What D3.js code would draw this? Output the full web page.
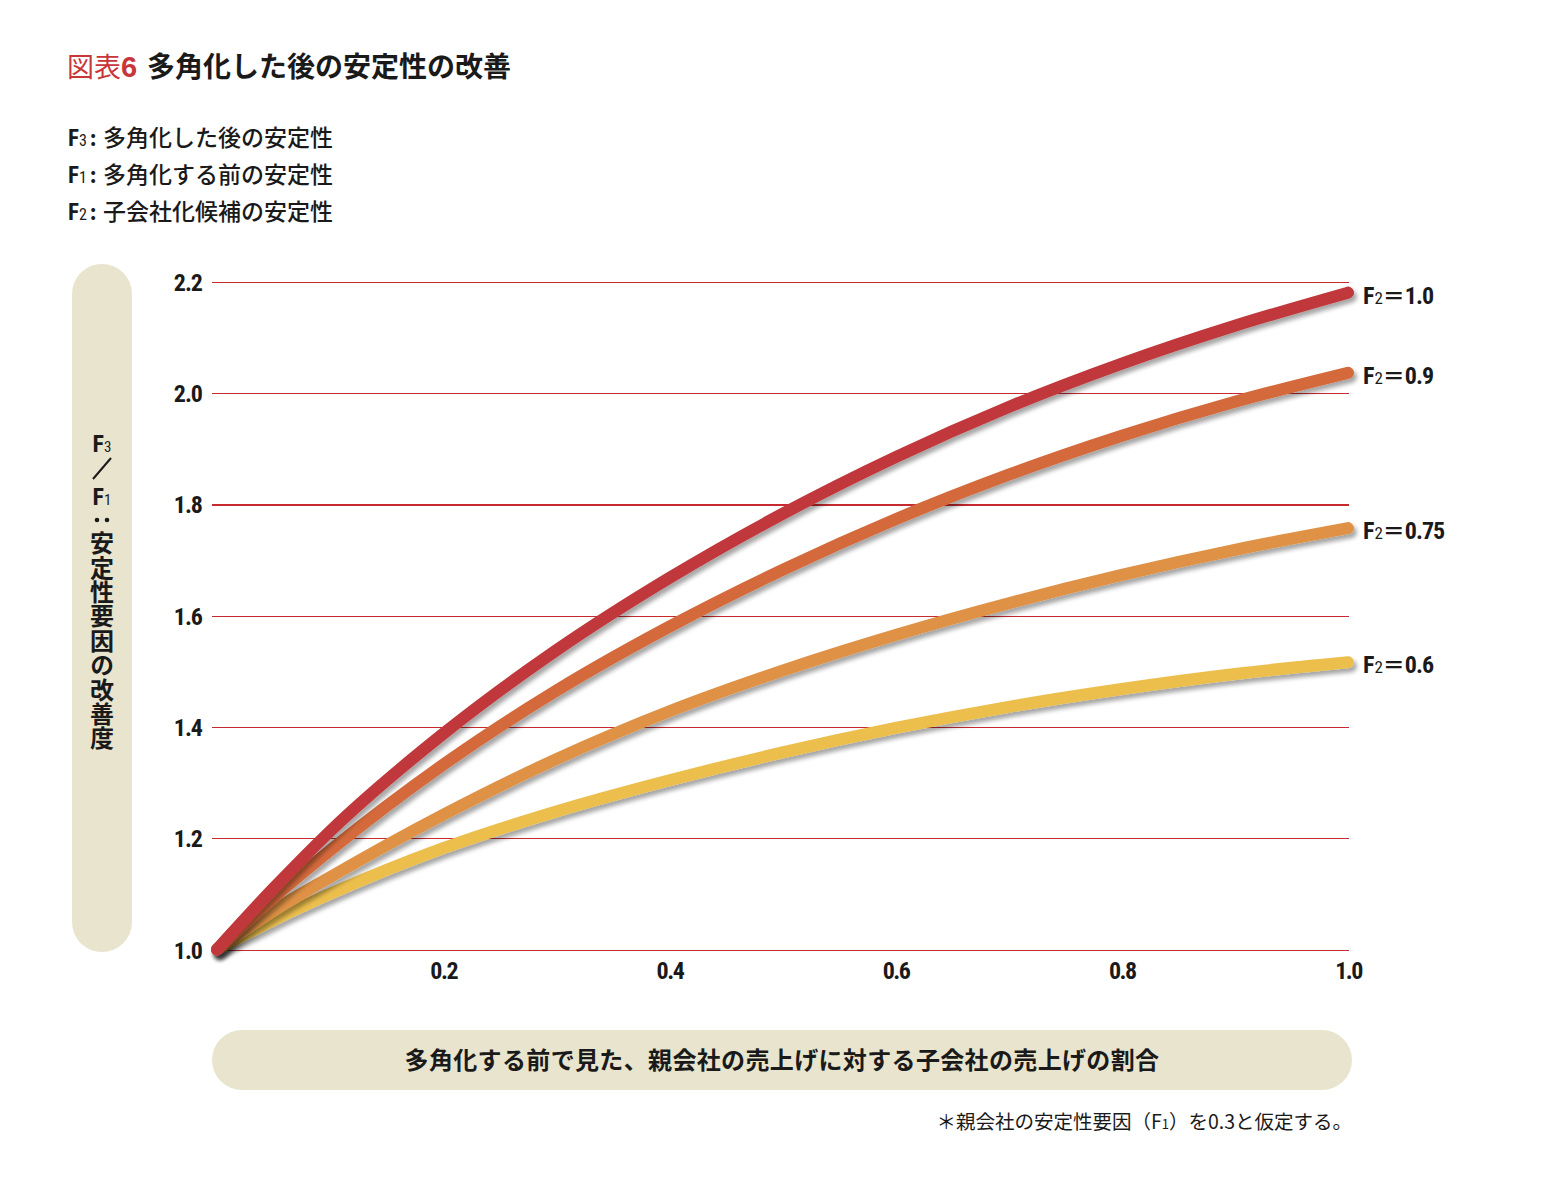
<!DOCTYPE html>
<html>
<head>
<meta charset="utf-8">
<script src="https://cdn.jsdelivr.net/npm/d3@7"></script>
<style>
  html, body { margin: 0; padding: 0; background: #ffffff; }
  svg { display: block; }
</style>
</head>
<body>
<svg id="chart" width="1552" height="1186"></svg>
<script>
// ---------------- DATA ----------------
const xValues = [0, 0.05, 0.1, 0.2, 0.3, 0.4, 0.5, 0.6, 0.7, 0.8, 0.9, 1.0];
const seriesNames = ["1.0", "0.9", "0.75", "0.6"];
const valuesF2_10  = [1.0, 1.11, 1.2125, 1.3875, 1.5375, 1.6675, 1.7825, 1.8845, 1.9745, 2.0525, 2.1205, 2.18];
const valuesF2_09  = [1.0, 1.093, 1.178, 1.332, 1.465, 1.58, 1.682, 1.773, 1.853, 1.923, 1.984, 2.036];
const valuesF2_075 = [1.0, 1.07, 1.13, 1.242, 1.342, 1.428, 1.501, 1.565, 1.622, 1.673, 1.718, 1.757];
const valuesF2_06  = [1.0, 1.053, 1.10, 1.182, 1.248, 1.304, 1.354, 1.398, 1.436, 1.468, 1.495, 1.516];
const yTickValues = [1.0, 1.2, 1.4, 1.6, 1.8, 2.0, 2.2];
const xTickValues = [0.2, 0.4, 0.6, 0.8, 1.0];

const titlePrefix = "図表";
const titleNumber = "6";
const titleText = "多角化した後の安定性の改善";
const legendSubs = ["3", "1", "2"];
const legendTexts = ["多角化した後の安定性", "多角化する前の安定性", "子会社化候補の安定性"];
const yTitleText = "安定性要因の改善度";
const xTitle = "多角化する前で見た、親会社の売上げに対する子会社の売上げの割合";
const footnote = ["＊親会社の安定性要因（F", "1", "）を0.3と仮定する。"];

// ---------------- STYLE ----------------
const seriesColors = ["#C0373A", "#D4693B", "#DF9145", "#ECBF4E"];
const gridColor = "#C62A2E";
const panelColor = "#E8E4CD";
const jp = "'Noto Sans CJK JP', 'Noto Sans', sans-serif";
const narrow = "'Liberation Sans Narrow', 'Arial Narrow', 'Roboto Condensed', 'Liberation Sans', Arial, sans-serif";

const svg = d3.select("#chart");

const x = d3.scaleLinear().domain([0, 1]).range([217, 1348]);
const y = d3.scaleLinear().domain([1.0, 2.2]).range([949.5, 281.5]);
const gridLeft = 212, gridRight = 1349;

// shadow filter
const defs = svg.append("defs");
const f = defs.append("filter").attr("id", "shadow")
  .attr("x", "-5%").attr("y", "-5%").attr("width", "115%").attr("height", "120%");
f.append("feDropShadow").attr("dx", 3).attr("dy", 4).attr("stdDeviation", 2)
  .attr("flood-color", "#000").attr("flood-opacity", 0.35);

// ---------------- TITLE ----------------
const title = svg.append("text").attr("x", 67).attr("y", 77)
  .attr("font-family", jp).attr("font-size", 27);
title.append("tspan").attr("fill", "#C8363A").attr("font-weight", 400).text(titlePrefix);
title.append("tspan").attr("fill", "#C8363A").attr("font-weight", 700)
  .attr("font-family", "'Liberation Sans', Arial, sans-serif").attr("font-size", 29).text(titleNumber);
title.append("tspan").attr("x", 147).attr("fill", "#1a1a1a").attr("font-weight", 700)
  .attr("font-size", 28).text(titleText);

// ---------------- LEGEND ----------------
legendTexts.forEach((t, i) => {
  const ty = 146 + i * 37;
  const g = svg.append("text").attr("x", 68).attr("y", ty).attr("fill", "#1a1a1a");
  g.append("tspan").attr("font-family", narrow).attr("font-weight", 700).attr("font-size", 23).text("F");
  g.append("tspan").attr("font-family", narrow).attr("font-weight", 400).attr("font-size", 16).text(legendSubs[i]);
  g.append("tspan").attr("font-family", jp).attr("font-weight", 700).attr("font-size", 21)
    .attr("dx", 3).text(":");
  g.append("tspan").attr("x", 103).attr("font-family", jp).attr("font-weight", 500).attr("font-size", 23).text(t);
});

// ---------------- PANELS ----------------
svg.append("rect").attr("x", 72).attr("y", 264).attr("width", 60).attr("height", 688)
  .attr("rx", 30).attr("ry", 30).attr("fill", panelColor);
svg.append("rect").attr("x", 212).attr("y", 1030).attr("width", 1140).attr("height", 60)
  .attr("rx", 30).attr("ry", 30).attr("fill", panelColor);

// vertical y title
const cx = 102;
const f3 = svg.append("text").attr("x", cx).attr("y", 452).attr("text-anchor", "middle").attr("fill", "#1a1a1a");
f3.append("tspan").attr("font-family", narrow).attr("font-weight", 700).attr("font-size", 24).text("F");
f3.append("tspan").attr("font-family", narrow).attr("font-weight", 400).attr("font-size", 15).text("3");
svg.append("line").attr("x1", cx + 9).attr("y1", 458).attr("x2", cx - 9).attr("y2", 479)
  .attr("stroke", "#1a1a1a").attr("stroke-width", 2);
const f1 = svg.append("text").attr("x", cx).attr("y", 505).attr("text-anchor", "middle").attr("fill", "#1a1a1a");
f1.append("tspan").attr("font-family", narrow).attr("font-weight", 700).attr("font-size", 24).text("F");
f1.append("tspan").attr("font-family", narrow).attr("font-weight", 400).attr("font-size", 15).text("1");
svg.append("g").selectAll("circle").data([-5, 5]).join("circle")
  .attr("cx", d => cx + d).attr("cy", 520).attr("r", 2.3).attr("fill", "#1a1a1a");
svg.append("text").attr("x", cx).attr("y", 531)
  .attr("writing-mode", "vertical-rl").style("writing-mode", "vertical-rl")
  .style("text-orientation", "upright")
  .attr("font-family", jp).attr("font-weight", 700).attr("font-size", 24)
  .attr("letter-spacing", 0.4).attr("fill", "#1a1a1a").text(yTitleText);

// x title
svg.append("text").attr("x", 782).attr("y", 1069).attr("text-anchor", "middle")
  .attr("font-family", jp).attr("font-weight", 700).attr("font-size", 24)
  .attr("fill", "#1a1a1a").attr("letter-spacing", 0.35).text(xTitle);

// footnote
const fn = svg.append("text").attr("x", 1352).attr("y", 1129).attr("text-anchor", "end")
  .attr("font-family", jp).attr("font-size", 19.5).attr("fill", "#1a1a1a");
fn.append("tspan").text(footnote[0]);
fn.append("tspan").attr("font-size", 13).text(footnote[1]);
fn.append("tspan").text(footnote[2]);

// ---------------- AXES / GRID ----------------
const yAxis = d3.axisLeft(y).tickValues(yTickValues).tickFormat(d3.format(".1f"))
  .tickSize(-(gridRight - gridLeft)).tickPadding(10);
const gy = svg.append("g").attr("transform", `translate(${gridLeft},0)`).call(yAxis);
gy.select(".domain").remove();
gy.selectAll(".tick line").attr("stroke", gridColor).attr("shape-rendering", "crispEdges")
  .attr("stroke-width", d => d === 1.8 ? 2 : 1);
gy.selectAll(".tick text").attr("font-family", narrow).attr("font-weight", 700)
  .attr("font-size", 24).attr("fill", "#1a1a1a").attr("letter-spacing", -1).attr("dy", "0.36em");

const xAxis = d3.axisBottom(x).tickValues(xTickValues).tickFormat(d3.format(".1f"))
  .tickSize(0).tickPadding(12);
const gx = svg.append("g").attr("transform", `translate(0,${y(1.0)})`).call(xAxis);
gx.select(".domain").remove();
gx.selectAll(".tick text").attr("font-family", narrow).attr("font-weight", 700)
  .attr("font-size", 24).attr("fill", "#1a1a1a").attr("letter-spacing", -1.5);

// ---------------- LINES ----------------
const allValues = [valuesF2_10, valuesF2_09, valuesF2_075, valuesF2_06];
const series = seriesNames.map((name, i) => ({
  name, color: seriesColors[i],
  points: xValues.map((xv, j) => [xv, allValues[i][j]])
}));
const line = d3.line().x(d => x(d[0])).y(d => y(d[1])).curve(d3.curveMonotoneX);

svg.append("g").selectAll("path").data(series.slice().reverse()).join("path")
  .attr("d", d => line(d.points))
  .attr("fill", "none").attr("stroke", d => d.color).attr("stroke-width", 12)
  .attr("stroke-linecap", "round").attr("filter", "url(#shadow)");

// series labels
series.forEach(s => {
  const last = s.points[s.points.length - 1];
  const t = svg.append("text").attr("x", 1363).attr("y", y(last[1]) + 11).attr("fill", "#1a1a1a");
  t.append("tspan").attr("font-family", narrow).attr("font-weight", 700).attr("font-size", 24).text("F");
  t.append("tspan").attr("font-family", narrow).attr("font-weight", 400).attr("font-size", 17).text("2");
  t.append("tspan").attr("font-family", jp).attr("font-weight", 700).attr("font-size", 22).text("＝");
  t.append("tspan").attr("font-family", narrow).attr("font-weight", 700).attr("font-size", 24)
    .attr("letter-spacing", -1).text(s.name);
});
</script>
</body>
</html>
